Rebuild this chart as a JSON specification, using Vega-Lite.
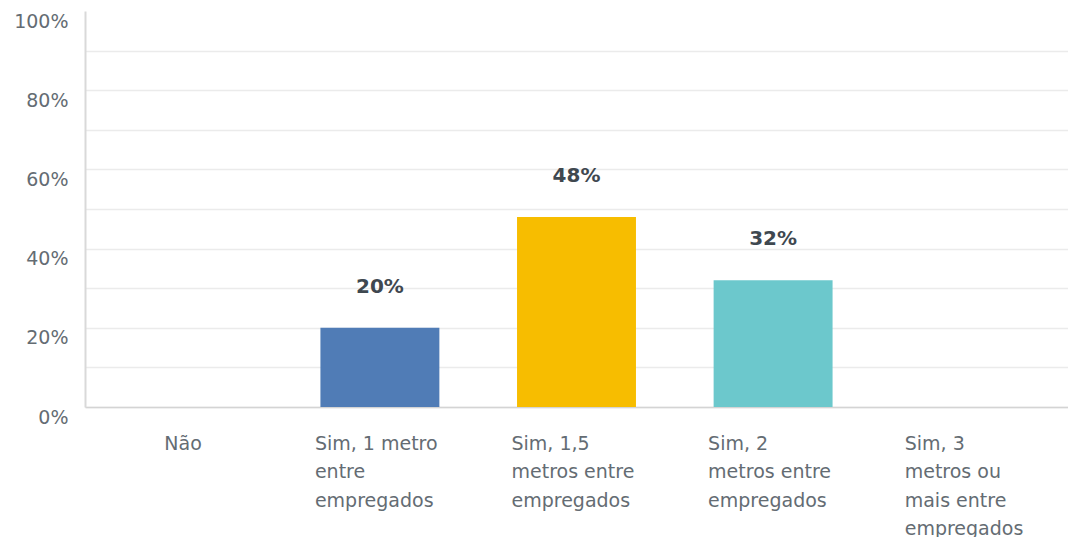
{
  "$schema": "https://vega.github.io/schema/vega-lite/v6.json",
  "width": 983,
  "height": 396,
  "autosize": "none",
  "padding": {"left": 85, "top": 11, "right": 0, "bottom": 130},
  "background": "white",
  "config": {"view": {"stroke": null}, "font": "DejaVu Sans"},
  "data": {
    "values": [
      {"answer": "Não", "value": 0},
      {"answer": "Sim, 1 metro\nentre\nempregados", "value": 0.20},
      {"answer": "Sim, 1,5\nmetros entre\nempregados", "value": 0.48},
      {"answer": "Sim, 2\nmetros entre\nempregados", "value": 0.32},
      {"answer": "Sim, 3\nmetros ou\nmais entre\nempregados", "value": 0}
    ]
  },
  "encoding": {
    "x": {
      "field": "answer",
      "type": "nominal",
      "sort": null,
      "scale": {"paddingInner": 0.395, "paddingOuter": 0.1975},
      "axis": {
        "title": null,
        "ticks": false,
        "domainColor": "#d4d4d4",
        "domainWidth": 1.5,
        "labelAngle": 0,
        "labelAlign": "left",
        "labelBaseline": "top",
        "labelPadding": 27,
        "labelOffset": {"condition": {"test": "datum.value === 'Não'", "value": -19}, "value": -65},
        "labelExpr": "split(datum.label, '\\n')",
        "labelLineHeight": 28.5,
        "labelFontSize": 19,
        "labelColor": "#646c73",
        "labelLimit": 0
      }
    },
    "y": {
      "field": "value",
      "type": "quantitative",
      "scale": {"domain": [0, 1], "nice": false},
      "axis": {
        "title": null,
        "values": [0, 0.1, 0.2, 0.3, 0.4, 0.5, 0.6, 0.7, 0.8, 0.9, 1],
        "labelExpr": "round(datum.value * 100) % 20 == 0 ? format(datum.value, '.0%') : ''",
        "ticks": false,
        "grid": true,
        "gridColor": "#ebebeb",
        "gridWidth": 1.5,
        "gridOpacity": {"condition": {"test": "datum.value >= 0.99", "value": 0}, "value": 1},
        "domainColor": "#d9d9d9",
        "domainWidth": 2,
        "labelPadding": 17,
        "labelOffset": 10,
        "labelFontSize": 19,
        "labelColor": "#646c73"
      }
    }
  },
  "layer": [
    {
      "mark": {"type": "bar"},
      "encoding": {
        "color": {
          "field": "answer",
          "type": "nominal",
          "sort": null,
          "legend": null,
          "scale": {"range": ["#7f7f7f", "#507cb6", "#f7bd00", "#6cc8cc", "#999999"]}
        }
      }
    },
    {
      "transform": [{"filter": "datum.value > 0"}],
      "mark": {"type": "text", "baseline": "middle", "dy": -41, "fontSize": 20, "fontWeight": "bold", "color": "#3f4850"},
      "encoding": {
        "text": {"field": "value", "type": "quantitative", "format": ".0%"}
      }
    }
  ]
}
